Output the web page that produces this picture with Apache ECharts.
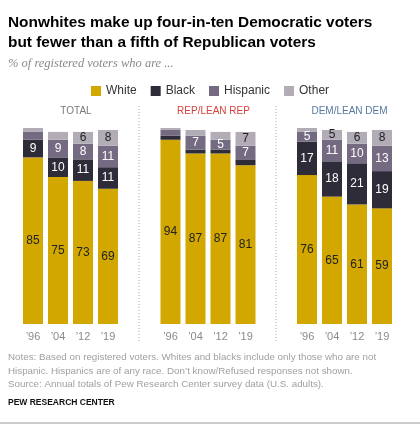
<!DOCTYPE html>
<html>
<head>
<meta charset="utf-8">
<script src="https://cdn.jsdelivr.net/npm/echarts@6/dist/echarts.min.js"></script>
<style>
html,body{margin:0;padding:0;background:#fff;}
#chart{width:420px;height:425px;}
</style>
</head>
<body>
<div id="chart"></div>
<script>
// ---- data ----
const years = ["\u201996", "\u201904", "\u201912", "\u201919"];
const races = ["White", "Black", "Hispanic", "Other"];
const panels = ["TOTAL", "REP/LEAN REP", "DEM/LEAN DEM"];

const totalWhite = [85, 75, 73, 69];
const totalBlack = [9, 10, 11, 11];
const totalHispanic = [4, 9, 8, 11];
const totalOther = [2, 4, 6, 8];

const repWhite = [94, 87, 87, 81];
const repBlack = [2, 2, 2, 3];
const repHispanic = [3, 7, 5, 7];
const repOther = [1, 3, 4, 7];

const demWhite = [76, 65, 61, 59];
const demBlack = [17, 18, 21, 19];
const demHispanic = [5, 11, 10, 13];
const demOther = [2, 5, 6, 8];

const titleText = "Nonwhites make up four-in-ten Democratic voters\nbut fewer than a fifth of Republican voters";
const subtitleText = "% of registered voters who are ...";
const notesText = "Notes: Based on registered voters. Whites and blacks include only those who are not\nHispanic. Hispanics are of any race. Don\u2019t know/Refused responses not shown.\nSource: Annual totals of Pew Research Center survey data (U.S. adults).";
const sourceText = "PEW RESEARCH CENTER";

// ---- styling ----
const colors = ["#d1a700", "#2e2c38", "#746b82", "#b1acb6"];
const labelColors = ["#222", "#fff", "#fff", "#222"];
const panelColors = ["#7a7a7a", "#d4423b", "#5577a0"];
const font = "'Liberation Sans', Arial, sans-serif";

const panelData = [
  [totalWhite, totalBlack, totalHispanic, totalOther],
  [repWhite, repBlack, repHispanic, repOther],
  [demWhite, demBlack, demHispanic, demOther]
];
const gridLefts = [20.5, 158, 294.5];
const panelCenters = [71, 208.5, 344.5];

const grids = [], xAxes = [], yAxes = [], series = [];
panelData.forEach((pd, p) => {
  grids.push({ left: gridLefts[p], width: 100, top: 128, height: 196, containLabel: false });
  xAxes.push({
    type: 'category', gridIndex: p, data: years,
    axisLine: { show: false }, axisTick: { show: false },
    axisLabel: { color: '#8a8a8a', fontSize: 11, fontFamily: font, margin: 7 }
  });
  yAxes.push({ type: 'value', gridIndex: p, min: 0, max: 100, show: false, splitLine: { show: false } });
  pd.forEach((vals, r) => {
    series.push({
      type: 'bar', name: races[r], xAxisIndex: p, yAxisIndex: p,
      stack: 'panel' + p, barWidth: 20, data: vals,
      itemStyle: { color: colors[r] },
      label: {
        show: true, position: 'inside', color: labelColors[r],
        fontSize: 12, fontFamily: font,
        formatter: (d) => (d.value >= 5 ? String(d.value) : '')
      },
      emphasis: { disabled: true },
      animation: false
    });
  });
});

const titles = [
  { text: titleText, left: 3, top: 8,
    textStyle: { fontSize: 15.4, fontWeight: 'bold', color: '#000', fontFamily: font, lineHeight: 20 } },
  { text: subtitleText, left: 3, top: 52,
    textStyle: { fontSize: 12.5, fontStyle: 'italic', fontWeight: 'normal', color: '#8a8a8a', fontFamily: "'Liberation Serif', 'DejaVu Serif', serif" } }
];
panels.forEach((t, p) => {
  titles.push({ text: t, left: panelCenters[p], top: 101, textAlign: 'center',
    textStyle: { fontSize: 10, fontWeight: 'normal', color: panelColors[p], fontFamily: font } });
});
titles.push({ text: notesText, left: 3, top: 346,
  textStyle: { fontSize: 9.8, fontWeight: 'normal', color: '#a0a0a0', fontFamily: font, lineHeight: 13.5 } });
titles.push({ text: sourceText, left: 3, top: 393,
  textStyle: { fontSize: 8.5, fontWeight: 'bold', color: '#111', fontFamily: font } });

const chart = echarts.init(document.getElementById('chart'), null, { renderer: 'canvas' });
chart.setOption({
  animation: false,
  backgroundColor: '#fff',
  title: titles,
  legend: {
    data: races.map((r, i) => ({ name: r, itemStyle: { color: colors[i] } })),
    left: 86, top: 80, itemWidth: 10, itemHeight: 10, itemGap: 14, icon: 'rect',
    selectedMode: false,
    textStyle: { fontSize: 12, color: '#333', fontFamily: font }
  },
  grid: grids, xAxis: xAxes, yAxis: yAxes, series: series,
  graphic: [
    { type: 'line', shape: { x1: 139, y1: 106, x2: 139, y2: 342 },
      style: { stroke: '#aaa', lineWidth: 1, lineDash: [1, 2] } },
    { type: 'line', shape: { x1: 276, y1: 106, x2: 276, y2: 342 },
      style: { stroke: '#aaa', lineWidth: 1, lineDash: [1, 2] } },
    { type: 'line', shape: { x1: 0, y1: 423, x2: 420, y2: 423 },
      style: { stroke: '#999', lineWidth: 1 } }
  ]
});
</script>
</body>
</html>
